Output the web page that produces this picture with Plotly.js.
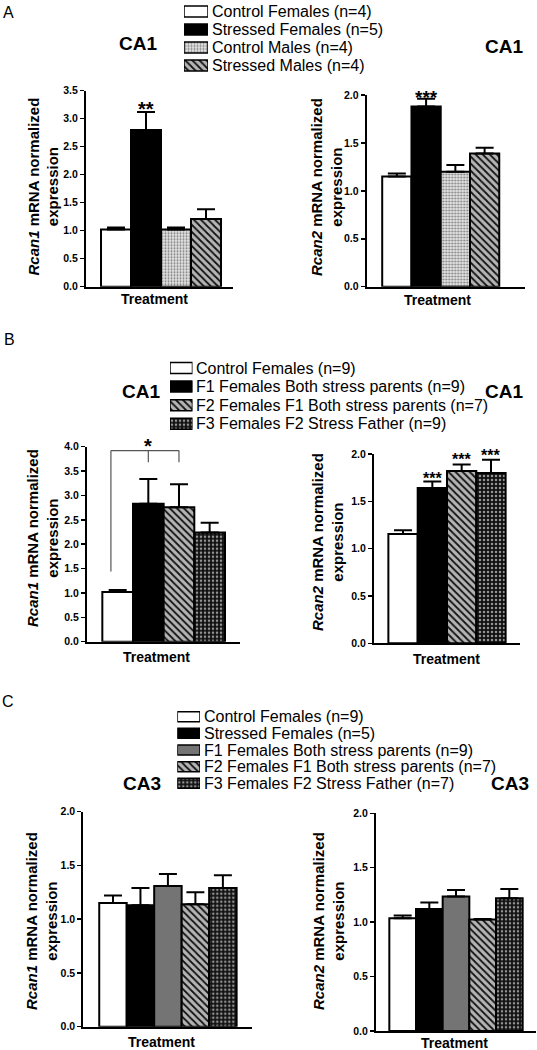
<!DOCTYPE html>
<html><head><meta charset="utf-8">
<script src="https://cdn.plot.ly/plotly-3.0.1.min.js"></script>
<style>html,body{margin:0;padding:0;background:#fff}#chart{width:537px;height:1050px}</style>
</head><body><div id="chart"></div>
<script>
// ---------------- data ----------------
const legendA = ['Control Females (n=4)', 'Stressed Females (n=5)', 'Control Males (n=4)', 'Stressed Males (n=4)'];
const legendB = ['Control Females (n=9)', 'F1 Females Both stress parents (n=9)', 'F2 Females F1 Both stress parents (n=7)', 'F3 Females F2 Stress Father (n=9)'];
const legendC = ['Control Females (n=9)', 'Stressed Females (n=5)', 'F1 Females Both stress parents (n=9)', 'F2 Females F1 Both stress parents (n=7)', 'F3 Females F2 Stress Father (n=7)'];
const groupStyleA = ['white', 'black', 'stipple', 'hatch'];
const groupStyleB = ['white', 'black', 'hatch', 'checker'];
const groupStyleC = ['white', 'black', 'gray', 'hatch', 'checker'];

const rcan1A = [1.02, 2.80, 1.02, 1.21];
const rcan1A_sem = [0.035, 0.32, 0.035, 0.175];
const rcan1A_sig = ['', '**', '', ''];
const rcan2A = [1.15, 1.88, 1.20, 1.39];
const rcan2A_sem = [0.03, 0.08, 0.07, 0.06];
const rcan2A_sig = ['', '***', '', ''];

const rcan1B = [1.02, 2.83, 2.76, 2.24];
const rcan1B_sem = [0.04, 0.51, 0.47, 0.20];
const rcan2B = [1.155, 1.64, 1.82, 1.80];
const rcan2B_sem = [0.04, 0.07, 0.07, 0.14];
const rcan2B_sig = ['', '***', '***', '***'];

const rcan1C = [1.15, 1.13, 1.31, 1.14, 1.29];
const rcan1C_sem = [0.07, 0.16, 0.11, 0.11, 0.12];
const rcan2C = [1.035, 1.12, 1.235, 1.025, 1.22];
const rcan2C_sem = [0.025, 0.06, 0.06, 0.005, 0.085];

const yMaxA1 = 3.5, yMaxA2 = 2.0, yMaxB1 = 4.0, yMaxB2 = 2.0, yMaxC1 = 2.0, yMaxC2 = 2.0;

// ---------------- styles ----------------
const W = 537, H = 1050;
const PX = p => p / W;
const PY = p => 1 - p / H;
const FONT = 'Liberation Sans, Arial, Helvetica, sans-serif';
const STY = {
  white:   {bg: '#ffffff', shape: '',   fg: '#000000', size: 6, sol: 0.3},
  black:   {bg: '#000000', shape: '',   fg: '#000000', size: 6, sol: 0.3},
  gray:    {bg: '#747474', shape: '',   fg: '#000000', size: 6, sol: 0.3},
  stipple: {bg: '#e4e4e4', shape: '.',  fg: '#7a7a7a', size: 3, sol: 0.35},
  hatch:   {bg: '#b4b4b4', shape: '\\', fg: '#111111', size: 5, sol: 0.35},
  checker: {bg: '#111111', shape: '.',  fg: '#959595', size: 4, sol: 0.32}
};

function markerFor(s, lw) {
  const st = STY[s];
  const m = {color: st.bg, line: {color: '#000', width: lw}};
  if (st.shape) {
    m.pattern = {shape: st.shape, fgcolor: st.fg, bgcolor: st.bg, size: st.size,
                 solidity: st.sol, fillmode: 'replace'};
  }
  return m;
}

function barTraces(vals, sem, styles, xa, ya) {
  return vals.map((v, i) => ({
    type: 'bar', x: [i], y: [v], width: 1,
    xaxis: xa, yaxis: ya, showlegend: false, hoverinfo: 'skip', cliponaxis: false,
    marker: markerFor(styles[i], 2),
    error_y: {type: 'data', symmetric: false, array: [sem[i]], arrayminus: [0],
              color: '#000', thickness: 2, width: 9}
  }));
}

function swatchTraces(names, styles, xa, ya, bw) {
  return names.map((n, i) => ({
    type: 'bar', orientation: 'h', y: [i], x: [1], base: 0, name: n,
    width: bw, xaxis: xa, yaxis: ya, showlegend: false, hoverinfo: 'skip', cliponaxis: false,
    marker: markerFor(styles[i], 1.5)
  }));
}

function yax(anchor, top, bottom, max) {
  return {anchor: anchor, domain: [PY(bottom), PY(top)], range: [0, max], dtick: 0.5, tick0: 0,
    tickformat: '.1f', ticks: 'outside', ticklen: 4, tickwidth: 1.5, tickcolor: '#000',
    showline: true, linecolor: '#000', linewidth: 2, showgrid: false, zeroline: false,
    tickfont: {family: FONT, size: 10.5, color: '#000', weight: 'bold'}, fixedrange: true};
}
function xax(anchor, left, right, r) {
  return {anchor: anchor, domain: [PX(left), PX(right)], range: r, showline: true, linecolor: '#000',
    linewidth: 2, showgrid: false, zeroline: false, showticklabels: false, ticks: '', fixedrange: true};
}
function hidx(anchor, left, right) {
  return {anchor: anchor, domain: [PX(left), PX(right)], range: [0, 1], visible: false, fixedrange: true};
}
function hidy(anchor, top, bottom, n) {
  return {anchor: anchor, domain: [PY(bottom), PY(top)], range: [n - 0.5, -0.5], visible: false, fixedrange: true};
}

const traces = [].concat(
  barTraces(rcan1A, rcan1A_sem, groupStyleA, 'x', 'y'),
  barTraces(rcan2A, rcan2A_sem, groupStyleA, 'x2', 'y2'),
  barTraces(rcan1B, rcan1B_sem, groupStyleB, 'x3', 'y3'),
  barTraces(rcan2B, rcan2B_sem, groupStyleB, 'x4', 'y4'),
  barTraces(rcan1C, rcan1C_sem, groupStyleC, 'x5', 'y5'),
  barTraces(rcan2C, rcan2C_sem, groupStyleC, 'x6', 'y6'),
  swatchTraces(legendA, groupStyleA, 'x7', 'y7', 0.61),
  swatchTraces(legendB, groupStyleB, 'x8', 'y8', 0.59),
  swatchTraces(legendC, groupStyleC, 'x9', 'y9', 0.6)
);

const ann = [];
function txt(x, y, text, size, bold, opts) {
  ann.push(Object.assign({xref: 'paper', yref: 'paper', x: PX(x), y: PY(y), text: text, showarrow: false,
    xanchor: 'center', yanchor: 'middle',
    font: {family: FONT, size: size, color: '#000', weight: bold ? 'bold' : 'normal'}}, opts || {}));
}
// panel letters
txt(8, 12, 'A', 16, false);
txt(9, 339, 'B', 16, false);
txt(8, 701, 'C', 16, false);
// region titles
txt(138, 44, 'CA1', 19, true);
txt(504, 46, 'CA1', 19, true);
txt(141, 392, 'CA1', 19, true);
txt(504, 391, 'CA1', 19, true);
txt(142, 783, 'CA3', 19, true);
txt(510, 783, 'CA3', 19, true);
// y titles
const yt1 = '<i>Rcan1</i> mRNA normalized<br>expression';
const yt2 = '<i>Rcan2</i> mRNA normalized<br>expression';
txt(42.5, 187, yt1, 15, true, {textangle: -90});
txt(326, 187, yt2, 15, true, {textangle: -90});
txt(42, 538, yt1, 15, true, {textangle: -90});
txt(327, 542, yt2, 15, true, {textangle: -90});
txt(41, 921, yt1, 15, true, {textangle: -90});
txt(328, 921, yt2, 15, true, {textangle: -90});
// x titles
txt(155, 299, 'Treatment', 14, true);
txt(437, 300, 'Treatment', 14, true);
txt(156, 657, 'Treatment', 14, true);
txt(446, 659, 'Treatment', 14, true);
txt(161, 1042, 'Treatment', 14, true);
txt(454, 1043, 'Treatment', 14, true);
// legend labels
legendA.forEach((t, i) => txt(209.5, 11.5 + 18 * i, t, 16, false, {xanchor: 'left'}));
legendB.forEach((t, i) => txt(194, 368 + 18.6 * i, t, 16, false, {xanchor: 'left'}));
legendC.forEach((t, i) => txt(202, 716.7 + 16.65 * i, t, 16, false, {xanchor: 'left'}));

// significance marks
function sig(labels, vals, sem, xr, yr, size, shifts) {
  labels.forEach((s, i) => {
    if (!s) return;
    ann.push({xref: xr, yref: yr, x: i, y: vals[i] + sem[i], text: s, showarrow: false,
      xanchor: 'center', yanchor: 'middle', yshift: shifts[i],
      font: {family: FONT, size: size, color: '#000', weight: 'bold'}});
  });
}
sig(rcan1A_sig, rcan1A, rcan1A_sem, 'x', 'y', 20, [0, 3, 0, 0]);
sig(rcan2A_sig, rcan2A, rcan2A_sem, 'x2', 'y2', 19, [0, 1.5, 0, 0]);
sig(rcan2B_sig, rcan2B, rcan2B_sem, 'x4', 'y4', 16, [0, 3, 5, 4]);
// comparison bracket in B (Rcan1)
ann.push({xref: 'x3', yref: 'y3', x: 1, y: 3.92, text: '*', showarrow: false, xanchor: 'center',
  yanchor: 'middle', yshift: 5, font: {family: FONT, size: 20, color: '#000', weight: 'bold'}});
const br = {color: '#555', width: 1.2};
const shapes = [
  {type: 'line', xref: 'x3', yref: 'y3', x0: -0.22, x1: 2, y0: 3.92, y1: 3.92, line: br},
  {type: 'line', xref: 'x3', yref: 'y3', x0: -0.22, x1: -0.22, y0: 3.92, y1: 1.44, line: br},
  {type: 'line', xref: 'x3', yref: 'y3', x0: 1, x1: 1, y0: 3.92, y1: 3.68, line: br},
  {type: 'line', xref: 'x3', yref: 'y3', x0: 2, x1: 2, y0: 3.92, y1: 3.68, line: br}
];

const layout = {
  width: W, height: H, autosize: false, margin: {l: 0, r: 0, t: 0, b: 0, pad: 0},
  paper_bgcolor: '#fff', plot_bgcolor: 'rgba(0,0,0,0)', showlegend: false, bargap: 0, barmode: 'overlay',
  font: {family: FONT, color: '#000'},
  xaxis:  xax('y', 86, 233, [-1.0, 3.9]),      yaxis:  yax('x', 90.7, 286.7, yMaxA1),
  xaxis2: xax('y2', 366.7, 525, [-1.03, 4.38]), yaxis2: yax('x2', 95, 286.7, yMaxA2),
  xaxis3: xax('y3', 87, 240, [-1.0, 3.99]),     yaxis3: yax('x3', 446.7, 641.7, yMaxB1),
  xaxis4: xax('y4', 374, 520, [-0.99, 3.99]),   yaxis4: yax('x4', 454, 643.3, yMaxB2),
  xaxis5: xax('y5', 83.3, 252, [-1.08, 5.06]),  yaxis5: yax('x5', 811.7, 1026.7, yMaxC1),
  xaxis6: xax('y6', 376, 536, [-1.0, 5.0]),     yaxis6: yax('x6', 813.3, 1031, yMaxC2),
  xaxis7: hidx('y7', 184, 208),   yaxis7: hidy('x7', 2.5, 74.5, legendA.length),
  xaxis8: hidx('y8', 170, 192.5), yaxis8: hidy('x8', 358.7, 433.1, legendB.length),
  xaxis9: hidx('y9', 177.3, 200), yaxis9: hidy('x9', 708.4, 791.6, legendC.length),
  annotations: ann, shapes: shapes
};

Plotly.newPlot('chart', traces, layout, {staticPlot: true, displayModeBar: false});
</script>
</body></html>
